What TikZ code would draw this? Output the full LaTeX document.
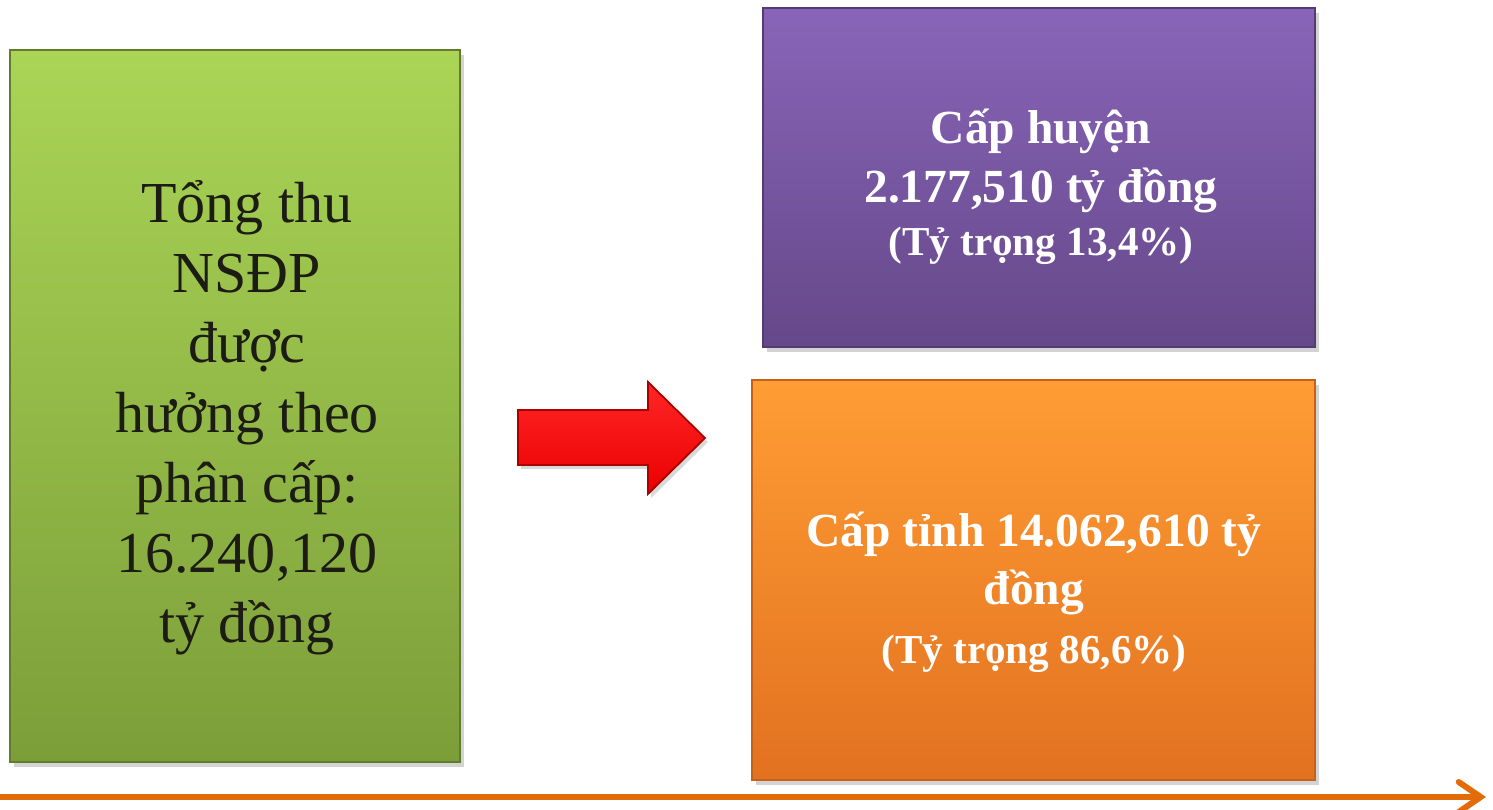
\documentclass[tikz,border=0pt]{standalone}
\usepackage{fontspec}
\setmainfont{Liberation Serif}
\usetikzlibrary{arrows.meta,shadows}

\definecolor{ccvertH}{RGB}{170,213,86}
\definecolor{ccvertB}{RGB}{124,158,57}
\definecolor{ccvertT}{RGB}{96,124,44}
\definecolor{ccvioletH}{RGB}{137,101,185}
\definecolor{ccvioletB}{RGB}{101,72,137}
\definecolor{ccvioletT}{RGB}{84,60,115}
\definecolor{ccorangeH}{RGB}{255,157,52}
\definecolor{ccorangeB}{RGB}{226,113,32}
\definecolor{ccorangeT}{RGB}{196,98,26}
\definecolor{ccrouge}{RGB}{255,0,0}
\definecolor{ccrougeT}{RGB}{170,0,0}
\definecolor{cctrait}{RGB}{227,108,10}
\definecolor{cctexte}{RGB}{28,28,20}

\newcommand{\petittxt}{\fontsize{11.7}{15}\selectfont}

\tikzset{
  bloc/.style={rectangle, inner sep=0pt, line width=0.6pt,
    drop shadow={opacity=0.35, shadow xshift=0.04cm, shadow yshift=-0.05cm}},
  blanc/.style={text=white, font=\bfseries\fontsize{13.5}{16.6}\selectfont, align=center}
}

\begin{document}
\begin{tikzpicture}[x=0.01cm, y=-0.01cm]

  % Bounding box of the scheme
  \useasboundingbox (0,0) rectangle (1493,810) ;

  %%%%%%%%%%%%%%%%%%%%%%%%%%%%%%%%% Blocs %%%%%%%%%%%%%%%%%%%%%%%%%%%%%%%%%%%%
  \draw (235,406) node[bloc, draw=ccvertT, top color=ccvertH, bottom color=ccvertB,
    minimum width=4.5cm, minimum height=7.12cm] (tong) {} ;
  \draw (1039,177.5) node[bloc, draw=ccvioletT, top color=ccvioletH, bottom color=ccvioletB,
    minimum width=5.52cm, minimum height=3.39cm] (huyen) {} ;
  \draw (1033.5,580) node[bloc, draw=ccorangeT, top color=ccorangeH, bottom color=ccorangeB,
    minimum width=5.63cm, minimum height=4cm] (tinh) {} ;

  %%%%%%%%%%%%%%%%%%%%%%%%%%%%%%%%% Textes %%%%%%%%%%%%%%%%%%%%%%%%%%%%%%%%%%%%
  \draw (247,418) node[text=cctexte, align=center, font=\fontsize{16.5}{19.9}\selectfont] (tongtxt)
    {Tổng thu\\NSĐP\\được\\hưởng theo\\phân cấp:\\16.240,120\\tỷ đồng} ;

  \draw (1041,187) node[blanc] (huyentxt)
    {Cấp huyện\\2.177,510 tỷ đồng\\[-1.5pt]\petittxt (Tỷ trọng 13,4\%)} ;

  \draw (1034,592) node[blanc] (tinhtxt)
    {Cấp tỉnh 14.062,610 tỷ\\đồng\\\petittxt (Tỷ trọng 86,6\%)} ;

  %%%%%%%%%%%%%%%%%%%%%%%%%%%%%%%%% Fleche rouge %%%%%%%%%%%%%%%%%%%%%%%%%%%%%%%%%%%%
  \draw[ccrougeT, line width=0.5pt, top color=ccrouge!85!white, bottom color=ccrouge!92!black,
    drop shadow={opacity=0.3, shadow xshift=0.03cm, shadow yshift=-0.04cm}]
    (518,410) -- (648,410) -- (648,382) -- (705,438) -- (648,494) -- (648,465) -- (518,465) -- cycle ;

  %%%%%%%%%%%%%%%%%%%%%%%%%%%%%%%%% Axe du bas %%%%%%%%%%%%%%%%%%%%%%%%%%%%%%%%%%%%
  \coordinate (axeG) at (0,797) ;
  \coordinate (axeD) at (1486,797) ;
  \draw[cctrait, line width=1.7pt, -{Straight Barb[length=0.22cm, width=0.3cm, line cap=round]}] (axeG) -- (axeD) ;

\end{tikzpicture}
\end{document}
